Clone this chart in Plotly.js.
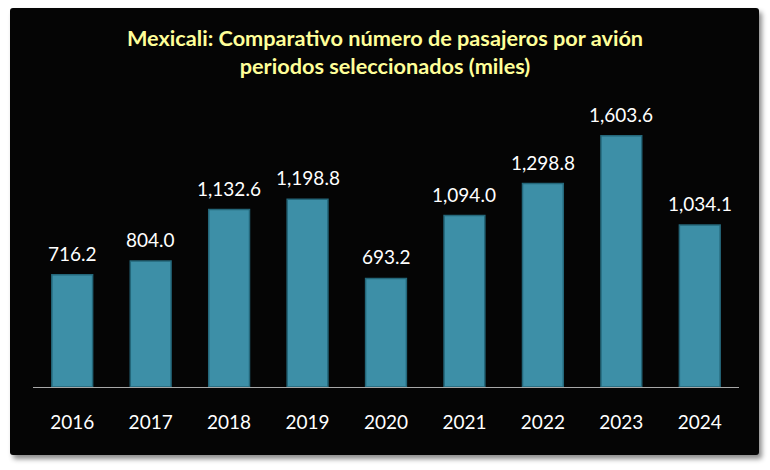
<!DOCTYPE html>
<html>
<head>
<meta charset="utf-8">
<script src="https://cdn.plot.ly/plotly-3.0.1.min.js"></script>
<style>
  html, body { margin: 0; padding: 0; background: #ffffff; width: 770px; height: 470px; overflow: hidden; }
  #frame { position: absolute; left: 10px; top: 8px; width: 749px; height: 447px; background: #050505;
           border-radius: 3px; box-shadow: 3px 4px 5px rgba(0,0,0,0.45); }
  #chart { position: absolute; left: 0; top: 0; width: 770px; height: 470px; }
</style>
</head>
<body>
<div id="frame"></div>
<div id="chart"></div>
<script>
const years = ["2016", "2017", "2018", "2019", "2020", "2021", "2022", "2023", "2024"];
const passengers = [716.2, 804.0, 1132.6, 1198.8, 693.2, 1094.0, 1298.8, 1603.6, 1034.1];
const titleText = "Mexicali: Comparativo número de pasajeros por avión<br>periodos seleccionados (miles)";

const fmt = v => v.toLocaleString("en-US", {minimumFractionDigits: 1, maximumFractionDigits: 1});
const idx = years.map((_, i) => i);

const trace = {
  type: "bar",
  x: idx,
  y: passengers,
  width: 0.52,
  marker: { color: "#3d8fa7", line: { color: "#24677a", width: 1.5 } },
  hoverinfo: "y"
};

const annotations = idx.map(i => ({
  x: i, y: passengers[i], xref: "x", yref: "y",
  text: fmt(passengers[i]), showarrow: false,
  yanchor: "bottom", yshift: 8,
  font: { family: "Lato, 'Open Sans', sans-serif", size: 19, color: "#ffffff" }
}));

const layout = {
  width: 770, height: 470,
  paper_bgcolor: "rgba(0,0,0,0)", plot_bgcolor: "rgba(0,0,0,0)",
  margin: { l: 33, r: 31, t: 105, b: 83 },
  title: {
    text: titleText, x: 0.5, xanchor: "center", y: 0.902, yanchor: "top",
    font: { family: "Lato, 'Open Sans', sans-serif", size: 21.7, color: "#ffff99", weight: "bold" }
  },
  showlegend: false,
  xaxis: {
    type: "linear", range: [-0.5, 8.5],
    tickmode: "array", tickvals: idx, ticktext: years,
    showline: true, linecolor: "#a8a8a8", linewidth: 1,
    ticks: "outside", ticklen: 18, tickcolor: "rgba(0,0,0,0)",
    tickfont: { family: "Lato, 'Open Sans', sans-serif", size: 19, color: "#ffffff" },
    showgrid: false, zeroline: false, fixedrange: true
  },
  yaxis: {
    range: [0, 1800], visible: false, showgrid: false, zeroline: false, fixedrange: true
  },
  annotations: annotations
};

Plotly.newPlot("chart", [trace], layout, { displayModeBar: false, staticPlot: true });
</script>
</body>
</html>
